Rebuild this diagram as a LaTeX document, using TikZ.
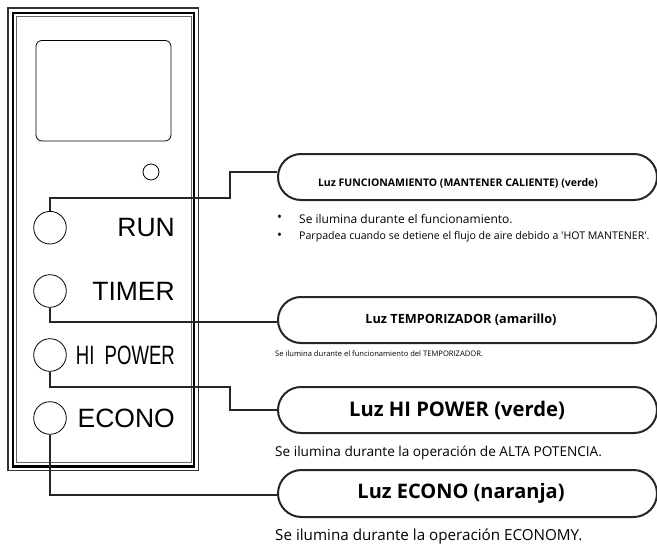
\documentclass[tikz,border=0pt]{standalone}
\usepackage{fontspec}
\setmainfont{Open Sans}
\newfontfamily\panelfont{Liberation Sans}
\usetikzlibrary{shapes.misc}

\def\xL{50}
\def\xK{230}
\def\xC{277}

\newcommand{\fsz}[1]{\fontsize{#1}{#1}\selectfont}

\tikzset{
  led/.style={shape=circle, draw=black, line width=0.8pt, minimum size=32.6pt, inner sep=0pt},
  key/.style={font=\panelfont\fsz{26.5}, anchor=east, inner sep=0pt},
  capsule/.style={shape=rounded rectangle, draw=black!85, line width=2pt, minimum width=379pt,
                  minimum height=46pt, anchor=west, inner sep=0pt, font=\bfseries},
  wire/.style={draw=black!85, line width=2pt},
  note/.style={anchor=west, inner sep=0pt},
}

\begin{document}
\begin{tikzpicture}[x=1pt, y=-1pt]
    \useasboundingbox (0,0) rectangle (657,546);

    %% panel
    \draw[line width=1.5pt, black!80] (8,8) rectangle (198.5,470.5);
    \draw[line width=2.5pt] (13,13) rectangle (194,466.5);
    \draw[line width=0.8pt, black!60] (16.5,16.5) rectangle (191,462);
    \draw[line width=0.8pt, rounded corners=6pt] (36,40.5) rectangle (171,141);
    \node[shape=circle, draw=black, line width=0.8pt, minimum size=16pt, inner sep=0pt] (SNS) at (151,172) {};

    %%   (lable)  (x, y)     {\text}
    \node[led] (RUN) at (\xL, 227.7) {};
    \node[led] (TMR) at (\xL, 291)   {};
    \node[led] (HIP) at (\xL, 355)   {};
    \node[led] (ECO) at (\xL, 418)   {};

    \node[key] at (175, 227.7) {RUN};
    \node[key] at (175, 291)   {TIMER};
    \node[key] at (175, 355)   {\scalebox{0.70}[1]{HI\ \ POWER}};
    \node[key] at (175, 418)   {ECONO};

    %% capsules
    \node[capsule] (L1) at (\xC, 177)   {\fsz{10.5}\raisebox{-9pt}[0pt][0pt]{Luz FUNCIONAMIENTO (MANTENER CALIENTE) (verde)}\hspace*{19pt}};
    \node[capsule] (L2) at (\xC, 320)   {\fsz{12.7}Luz TEMPORIZADOR (amarillo)\hspace*{13pt}};
    \node[capsule] (L3) at (\xC, 410)   {\fsz{20.2}Luz HI POWER (verde)\hspace*{21pt}};
    \node[capsule, minimum height=47pt] (L4) at (\xC, 493.5) {\fsz{20}Luz ECONO (naranja)\hspace*{13pt}};

    %% notes
    \node[note] (B1) at (277, 218.5) {\fsz{13}\textbullet};
    \node[note] (N1) at (299, 219) {\fsz{12}Se ilumina durante el funcionamiento.};
    \node[note] (B2) at (277, 236.5) {\fsz{13}\textbullet};
    \node[note] (N2) at (299, 237) {\fsz{10.6}Parpadea cuando se detiene el flujo de aire debido a \textquotesingle HOT MANTENER\textquotesingle.};
    \node[note] (N3) at (275, 354) {\fsz{7.6}Se ilumina durante el funcionamiento del TEMPORIZADOR.};
    \node[note] (N4) at (275, 453) {\fsz{13.6}Se ilumina durante la operación de ALTA POTENCIA.};
    \node[note] (N5) at (275, 537) {\fsz{15.2}Se ilumina durante la operación ECONOMY.};

    %% connectors
    \coordinate (K1) at (\xK, 198);
    \coordinate (K3) at (\xK, 387);

    \draw[wire] (RUN.north) |- (K1) |- ([yshift=5pt]L1.west);
    \draw[wire] (TMR.south) |- ([yshift=-2pt]L2.west);
    \draw[wire] (HIP.south) |- (K3) |- (L3.west);
    \draw[wire] (ECO.south) |- ([yshift=-1.5pt]L4.west);

  \end{tikzpicture}
\end{document}
